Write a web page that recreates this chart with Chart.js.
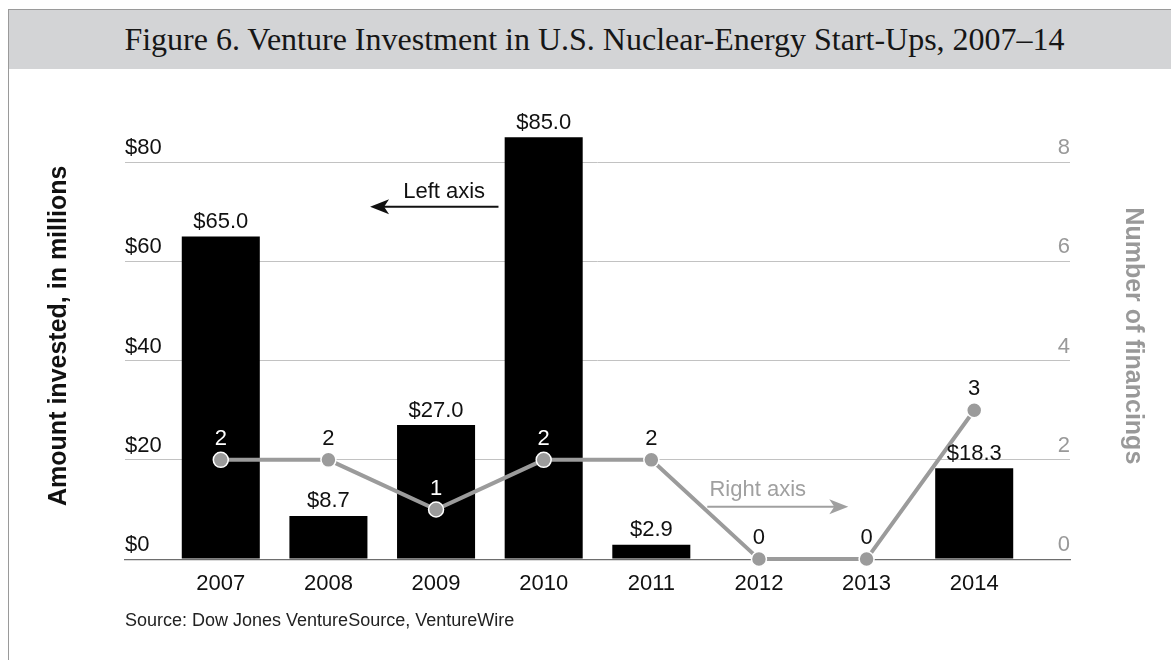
<!DOCTYPE html>
<html>
<head>
<meta charset="utf-8">
<title>Venture Investment in U.S. Nuclear-Energy Start-Ups</title>
<script src="https://cdn.jsdelivr.net/npm/chart.js@4.4.1/dist/chart.umd.min.js"></script>
<style>
  body { margin: 0; background: #fff; }
  #frame { position: absolute; left: 8px; top: 9px; width: 1300px; height: 800px;
           border-left: 1px solid #9a9a9a; border-top: 1px solid #9a9a9a; }
  #band { position: absolute; left: 9px; top: 10px; width: 1162px; height: 59px; background: #d3d4d6; }
  #title { position: absolute; left: 0; top: 23px; width: 1189px; text-align: center;
           font: 32px/32px "Liberation Serif", serif; color: #161616; white-space: nowrap; }
  #chart { position: absolute; left: 0; top: 0; }
  #source { position: absolute; left: 125px; top: 611px; font: 18px/18px "Liberation Sans", Arial, sans-serif;
            color: #222; }
</style>
</head>
<body>
<div id="frame"></div>
<div id="band"></div>
<div id="title">Figure 6. Venture Investment in U.S. Nuclear-Energy Start-Ups, 2007–14</div>
<canvas id="chart" width="1171" height="660"></canvas>
<div id="source">Source: Dow Jones VentureSource, VentureWire</div>
<script>
// data
const years = ["2007", "2008", "2009", "2010", "2011", "2012", "2013", "2014"];
const amountInvested = [65.0, 8.7, 27.0, 85.0, 2.9, 0, 0, 18.3];   // $ millions, left axis
const financings = [2, 2, 1, 2, 2, 0, 0, 3];                        // count, right axis
const amountTicks = [0, 20, 40, 60, 80];
const financingTicks = [0, 2, 4, 6, 8];

const FONT = "'Liberation Sans', Arial, sans-serif";
const GRAY = "#9b9b9b";

// "Left axis" / "Right axis" callouts, placed in data units
const callouts = [
    { text: "Left axis", axis: "yLeft", color: "#111", textX: 2.075, textY: 74, align: "center",
      from: 2.58, to: 1.387, arrowY: 71 },
    { text: "Right axis", axis: "yRight", color: "#a0a0a0", textX: 4.54, textY: 1.40, align: "left",
      from: 4.52, to: 5.83, arrowY: 1.056 },
];

const valueLabels = {
    id: "valueLabels",
    afterDatasetsDraw(chart) {
        const ctx = chart.ctx;
        const bars = chart.getDatasetMeta(1).data;
        const points = chart.getDatasetMeta(0).data;
        ctx.save();
        ctx.font = "22px " + FONT;
        ctx.textAlign = "center";
        ctx.textBaseline = "middle";
        bars.forEach((bar, i) => {
            if (!amountInvested[i]) return;
            ctx.fillStyle = "#111";
            ctx.fillText("$" + amountInvested[i].toFixed(1), bar.x, bar.y - 14.5);
        });
        points.forEach((pt, i) => {
            const ly = pt.y - 21;
            const inside = amountInvested[i] > 0 && bars[i].y < ly - 10;
            ctx.fillStyle = inside ? "#fff" : "#111";
            ctx.fillText(String(financings[i]), pt.x, ly);
        });
        ctx.restore();
    },
    afterDraw(chart) {
        const ctx = chart.ctx;
        const xs = chart.scales.x;
        ctx.save();
        ctx.font = "22px " + FONT;
        ctx.textBaseline = "middle";
        callouts.forEach(c => {
            const ys = chart.scales[c.axis];
            ctx.fillStyle = c.color;
            ctx.strokeStyle = c.color;
            ctx.textAlign = c.align;
            ctx.fillText(c.text, xs.getPixelForValue(c.textX), ys.getPixelForValue(c.textY));
            const x0 = xs.getPixelForValue(c.from);
            const x1 = xs.getPixelForValue(c.to);
            const y = ys.getPixelForValue(c.arrowY);
            const dir = x1 > x0 ? 1 : -1;
            ctx.lineWidth = 2;
            ctx.beginPath();
            ctx.moveTo(x0, y);
            ctx.lineTo(x1 - dir * 12, y);
            ctx.stroke();
            ctx.beginPath();
            ctx.moveTo(x1, y);
            ctx.lineTo(x1 - dir * 19, y - 7.5);
            ctx.lineTo(x1 - dir * 14, y);
            ctx.lineTo(x1 - dir * 19, y + 7.5);
            ctx.closePath();
            ctx.fill();
        });
        ctx.restore();
    },
};

new Chart(document.getElementById("chart"), {
    type: "bar",
    data: {
        datasets: [
            {
                type: "line",
                label: "Number of financings",
                data: financings.map((v, i) => ({ x: i, y: v })),
                yAxisID: "yRight",
                borderColor: GRAY,
                borderWidth: 4,
                pointRadius: 7.5,
                pointBackgroundColor: GRAY,
                pointBorderColor: "#fff",
                pointBorderWidth: 1.5,
                tension: 0,
                clip: false,
                order: 0,
            },
            {
                type: "bar",
                label: "Amount invested",
                data: amountInvested.map((v, i) => ({ x: i, y: v })),
                yAxisID: "yLeft",
                backgroundColor: "#000",
                barPercentage: 0.725,
                categoryPercentage: 1,
                clip: false,
                order: 1,
            },
        ],
    },
    options: {
        responsive: false,
        animation: false,
        devicePixelRatio: 1,
        layout: { padding: { left: 40.2, right: 19.2, top: 112.5, bottom: 51.5 } },
        plugins: { legend: { display: false }, tooltip: { enabled: false } },
        scales: {
            x: {
                type: "linear",
                offset: false,
                min: -0.89,
                max: 7.89,
                afterBuildTicks: s => { s.ticks = years.map((y, i) => ({ value: i })); },
                ticks: {
                    callback: v => years[v],
                    font: { size: 22, family: FONT },
                    color: "#111",
                    padding: 11.5,
                    maxRotation: 0,
                    autoSkip: false,
                },
                grid: { display: false, drawTicks: false, offset: false },
                border: { display: true, color: "#6e6e6e", width: 1.2 },
            },
            yLeft: {
                position: "left",
                min: 0,
                max: 90,
                afterBuildTicks: s => { s.ticks = amountTicks.map(v => ({ value: v })); },
                ticks: {
                    mirror: true,
                    padding: 0,
                    labelOffset: -14,
                    callback: v => "$" + v,
                    font: { size: 22, family: FONT },
                    color: "#111",
                },
                grid: { color: "#c2c2c2", lineWidth: 1, drawTicks: false },
                border: { display: false },
                title: {
                    display: true,
                    text: "Amount invested, in millions",
                    font: { size: 25, weight: "bold", family: FONT },
                    color: "#111",
                    padding: { top: 4, bottom: 50.8 },
                },
            },
            yRight: {
                position: "right",
                min: 0,
                max: 9,
                afterBuildTicks: s => { s.ticks = financingTicks.map(v => ({ value: v })); },
                ticks: {
                    mirror: true,
                    padding: 0,
                    labelOffset: -14,
                    font: { size: 22, family: FONT },
                    color: "#999",
                },
                grid: { drawOnChartArea: false, drawTicks: false },
                border: { display: false },
                title: {
                    display: true,
                    text: "Number of financings",
                    font: { size: 25, weight: "bold", family: FONT },
                    color: "#999",
                    padding: { top: 4, bottom: 47.8 },
                },
            },
        },
    },
    plugins: [valueLabels],
});
</script>
</body>
</html>
